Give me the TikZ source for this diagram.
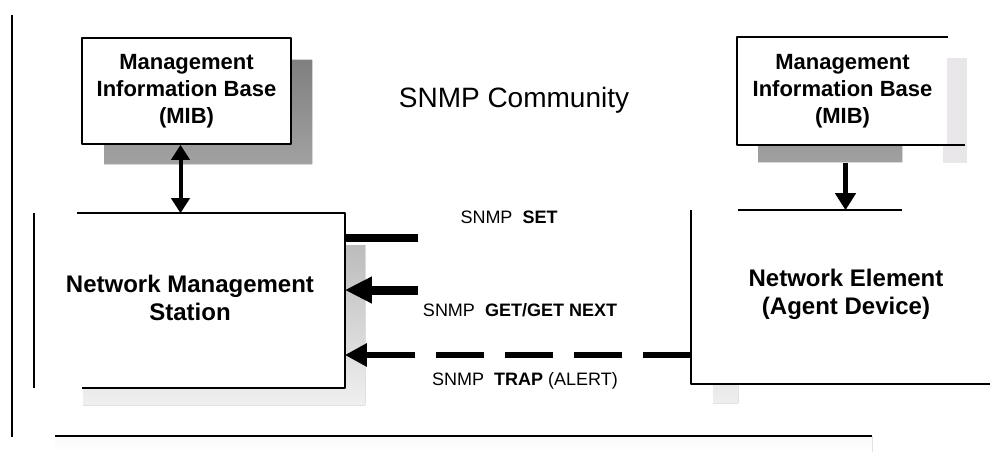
\documentclass[tikz,border=0pt]{standalone}
\usepackage{fontspec}
\setmainfont{Liberation Sans}
\usetikzlibrary{arrows.meta}
\definecolor{shade}{RGB}{204,200,204}
\begin{document}
\begin{tikzpicture}[x=1pt,y=-1pt,line join=round,line width=1.6pt,font=\fontsize{18}{22}\selectfont]
                \tikzset{mib/.style={minimum width=209pt,minimum height=106pt,inner sep=0pt,fill=white,align=center,font=\fontsize{22}{27}\selectfont\bfseries},
                    big/.style={inner sep=0pt,align=center,font=\fontsize{24}{28}\selectfont\bfseries},
                    box/.style 2 args={minimum width=#1,minimum height=#2,inner sep=0pt,fill=white},
                    lab/.style={inner sep=0pt,anchor=center}}
                \useasboundingbox (0,0) rectangle (990,452);
                
                \fill[shade] (104,60) rectangle (312,164) (344,245) rectangle (365,405) (83,387) rectangle (365,405)
                (758,143) rectangle (902,162) (713,382) rectangle (738,403) (55,436) rectangle (872,452);
                \fill[shade!45] (943,58) rectangle (967,163);
                \draw (12,15)--(12,437) (55,436)--(872,436);
                
                \path(186.5,91)node[mib,draw](mibL){Management\\Information Base\\(MIB)}
                (842.5,91)node[mib](mibR){Management\\Information Base\\(MIB)};
                \path(211,300.5)node[box={266pt}{173pt}](nms){}
                (190,298)node[big](nmsT){Network Management\\Station};
                \path(841,297)node[box={298pt}{172pt}](ne){}
                (846,294)node[big](neT){Network Element\\(Agent Device)};
                \path(514,100)node[lab,font=\fontsize{28}{32}\selectfont](title){SNMP Community}
                (509,217)node[lab](setL){SNMP~~\textbf{SET}}
                (520,310)node[lab](getL){SNMP~~\textbf{GET/GET NEXT}}
                (525,381)node[lab](trapL){SNMP~~\textbf{TRAP}~(ALERT)};
                
                \draw (mibR.north east)--(mibR.north west)--(mibR.south west)--([xshift=17pt]mibR.south east);
                \draw ([xshift=5pt]nms.south west)--(nms.south east)--(nms.north east)--(nms.north west);
                \draw ([xshift=-43pt]nms.north west)--([xshift=-43pt]nms.south west);
                \draw (ne.north west)--(ne.south west)--(ne.south east);
                \draw ([xshift=47pt]ne.north west)--([xshift=211pt]ne.north west);
                
                \coordinate(s) at (418,238);
                \coordinate(g) at (418,290);
                \coordinate(t) at (0,355);
                \draw[line width=4pt,{Triangle[length=15pt,width=18pt]}-{Triangle[length=15pt,width=18pt]}]
                ([xshift=-6pt]mibL.south)--([xshift=-6pt]mibL.south|-nms.north);
                \draw[line width=5pt,-{Triangle[length=17pt,width=20pt]}]
                ([shift={(3,18)}]mibR.south)--([xshift=3pt]mibR.south|-ne.north);
                \draw[line width=8pt] (nms.east|-s)--(s);
                \draw[line width=9pt,-{Triangle[length=27pt,width=25pt]}] (g)--(nms.east|-g);
                \draw[line width=6pt,dash pattern=on 48pt off 21pt,-{Triangle[length=22pt,width=22pt]}] (ne.west|-t)--(nms.east|-t);
            \end{tikzpicture}
\end{document}
